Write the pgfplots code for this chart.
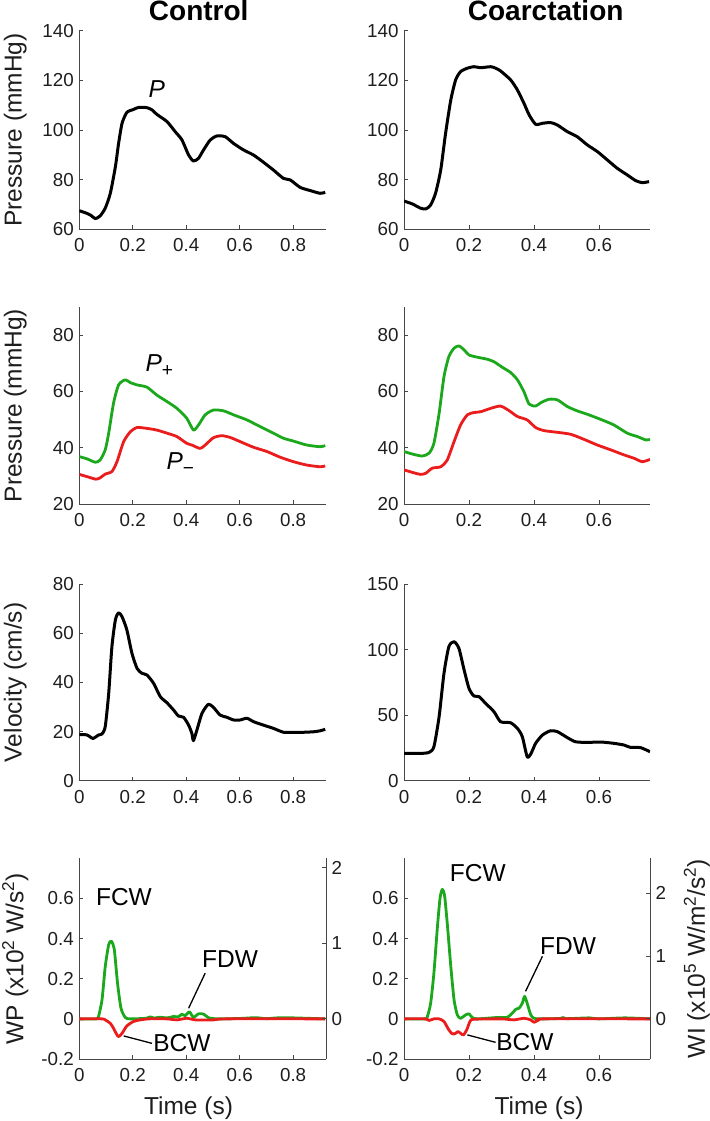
\documentclass[border=0pt]{standalone}
\usepackage{pgfplots}
\pgfplotsset{compat=1.18}
\usepackage{fontspec}
\setmainfont{Liberation Sans}
\definecolor{mgreen}{RGB}{28,168,28}
\definecolor{mred}{RGB}{234,28,28}
\definecolor{axc}{RGB}{70,70,70}
\definecolor{txc}{RGB}{30,30,30}
\newcommand{\tickfont}{\fontsize{18.8}{20}\selectfont}
\newcommand{\labfont}{\fontsize{24.5}{26}\selectfont}
\pgfplotsset{
 base/.style={scale only axis, anchor=south west, no markers,
   axis x line*=bottom, axis y line*=left,
   axis line style={-, draw=axc, line width=0.8pt},
   tick style={draw=axc, line width=0.8pt},
   tick align=inside, major tick length=4pt,
   tick label style={font=\tickfont, text=txc},
   /pgf/number format/assume math mode=true,
   xticklabel style={yshift=-6pt},
   yticklabel style={xshift=-2pt},
   ylabel style={at={([xshift=-64pt]rel axis cs:0,0.5)}, anchor=center, font=\labfont, text=txc},
   scaled ticks=false},
 L/.style={base, width=246.7pt, xmin=0, xmax=0.923, xtick={0,0.2,0.4,0.6,0.8}},
 R/.style={base, width=246pt, xmin=0, xmax=0.757, xtick={0,0.2,0.4,0.6}},
 blk/.style={black, line width=3pt, line join=round, smooth, tension=0.4},
 grn/.style={mgreen, line width=2.8pt, line join=round, smooth, tension=0.4},
 rd/.style={mred, line width=2.8pt, line join=round, smooth, tension=0.4},
 rax/.style={scale only axis, anchor=south west, axis x line=none, axis y line*=right,
   axis line style={-, draw=axc, line width=0.8pt},
   tick style={draw=axc, line width=0.8pt},
   tick align=inside, major tick length=4pt,
   tick label style={font=\tickfont, text=txc},
   /pgf/number format/assume math mode=true,
   yticklabel style={xshift=2pt}, ytick={0,1,2}, height=200.7pt},
}
\begin{document}
\begin{tikzpicture}
\useasboundingbox (0pt,0pt) rectangle (709pt,-1121pt);
\node[font=\bfseries\fontsize{28}{30}\selectfont, text=black, anchor=base] at (198.7pt,-20.7pt) {Control};
\node[font=\bfseries\fontsize{28}{30}\selectfont, text=black, anchor=base] at (545.7pt,-20.7pt) {Coarctation};

% Row 1
\begin{axis}[L, at={(79.3pt,-229.3pt)}, height=198.6pt, ymin=60, ymax=140, ytick={60,80,100,120,140}, ylabel={Pressure (mmHg)}]
\addplot[blk] coordinates {(0,67.5)(0.029,66.4)(0.045,65.5)(0.06,64.3)(0.078,65.4)(0.097,68.5)(0.116,74.5)(0.135,85.2)(0.147,94.6)(0.16,102.7)(0.178,107.1)(0.203,108.3)(0.222,109.1)(0.253,109)(0.272,108.1)(0.29,106.3)(0.328,103.4)(0.359,99.3)(0.384,96)(0.409,89.9)(0.427,87.5)(0.446,88.6)(0.465,92)(0.49,96)(0.515,97.6)(0.546,97.3)(0.577,94.6)(0.614,92)(0.652,89.9)(0.689,87)(0.726,83.9)(0.764,80.5)(0.789,79.9)(0.826,76.9)(0.864,75.6)(0.901,74.5)(0.92,74.9)};
\node[font=\itshape\labfont] at (axis cs:0.29,116.5) {P};
\end{axis}
\begin{axis}[R, at={(404pt,-229.3pt)}, height=198.6pt, ymin=60, ymax=140, ytick={60,80,100,120,140}]
\addplot[blk] coordinates {(0,71.4)(0.026,70.2)(0.051,68.5)(0.067,68.2)(0.082,69.8)(0.097,74.5)(0.113,83.9)(0.128,98.7)(0.144,112.1)(0.159,120.2)(0.174,123.5)(0.195,124.9)(0.215,125.5)(0.236,125.1)(0.267,125.5)(0.282,124.9)(0.297,123.8)(0.328,120.2)(0.349,116.1)(0.369,110.8)(0.385,106.1)(0.405,102.3)(0.426,102.7)(0.451,103)(0.472,102)(0.503,99.3)(0.533,97.3)(0.564,94)(0.595,91.3)(0.626,87.9)(0.656,84.6)(0.687,81.9)(0.713,79.6)(0.733,78.8)(0.754,79.2)};
\end{axis}

% Row 2
\begin{axis}[L, at={(79.3pt,-504.3pt)}, height=197.6pt, ymin=20, ymax=90, ytick={20,40,60,80}, ylabel={Pressure (mmHg)}]
\addplot[grn] coordinates {(0,36.9)(0.029,36.1)(0.06,34.9)(0.078,35.7)(0.097,39.3)(0.11,45.2)(0.128,55.8)(0.147,62.3)(0.172,64.1)(0.191,63.1)(0.216,62.3)(0.253,61.5)(0.29,58.7)(0.328,56.4)(0.365,54)(0.402,50.5)(0.427,46.3)(0.446,48.1)(0.471,51.7)(0.502,53.4)(0.54,53.1)(0.577,51.7)(0.627,49.9)(0.677,47.5)(0.726,45.2)(0.764,43.4)(0.801,42.4)(0.851,41)(0.901,40.4)(0.92,40.8)};
\addplot[rd] coordinates {(0,30.6)(0.029,29.8)(0.062,28.9)(0.078,29.4)(0.097,30.7)(0.122,31.6)(0.141,35.1)(0.166,42.2)(0.191,45.7)(0.216,47.2)(0.253,46.9)(0.29,46.3)(0.328,45.2)(0.365,44)(0.402,41.6)(0.421,41)(0.452,39.8)(0.471,41)(0.502,43.6)(0.533,44.3)(0.564,43.7)(0.602,42.2)(0.652,40.2)(0.702,38.7)(0.751,36.7)(0.801,35.1)(0.851,33.9)(0.901,33.3)(0.92,33.6)};
\node[font=\labfont] at (axis cs:0.299,69) {\itshape P\upshape\raisebox{-0.2em}{\fontsize{19}{19}\selectfont +}};
\node[font=\labfont] at (axis cs:0.378,34.3) {\itshape P\upshape\raisebox{-0.2em}{\fontsize{19}{19}\selectfont −}};
\end{axis}
\begin{axis}[R, at={(404pt,-504.3pt)}, height=197.6pt, ymin=20, ymax=90, ytick={20,40,60,80}]
\addplot[grn] coordinates {(0,38.7)(0.026,37.8)(0.056,37.1)(0.077,38.1)(0.092,41.6)(0.108,52.2)(0.123,65.2)(0.138,72.3)(0.154,75.3)(0.169,76.1)(0.185,74.7)(0.2,72.9)(0.226,72.1)(0.256,71.4)(0.277,70.5)(0.303,68.5)(0.328,66.7)(0.349,64.1)(0.369,59.9)(0.385,55.5)(0.405,54.8)(0.421,56)(0.446,57.2)(0.472,57)(0.503,54.6)(0.533,53.1)(0.564,51.9)(0.605,50.1)(0.646,48.1)(0.687,45.2)(0.718,44)(0.744,42.8)(0.757,43)};
\addplot[rd] coordinates {(0,32.2)(0.026,31.3)(0.051,30.6)(0.067,31)(0.087,32.8)(0.113,33.3)(0.133,35.7)(0.154,42.2)(0.174,48.1)(0.195,51.7)(0.215,52.5)(0.236,52.8)(0.267,54)(0.297,54.8)(0.323,53.2)(0.349,51.1)(0.379,49.9)(0.405,47.2)(0.431,46.1)(0.472,45.5)(0.513,44.8)(0.554,43)(0.595,41)(0.636,39.3)(0.677,37.5)(0.708,36.3)(0.733,35.1)(0.757,35.9)};
\end{axis}

% Row 3
\begin{axis}[L, at={(79.3pt,-780.7pt)}, height=196.7pt, ymin=0, ymax=80, ytick={0,20,40,60,80}, ylabel={Velocity (cm/s)}]
\addplot[blk] coordinates {(0,18.8)(0.029,18.6)(0.051,17.2)(0.072,18.6)(0.085,19)(0.097,22)(0.11,35.5)(0.122,54.5)(0.135,65.4)(0.147,68.3)(0.16,66.7)(0.178,61.3)(0.197,51.8)(0.216,45.7)(0.234,43.7)(0.253,43)(0.278,39.6)(0.303,34.2)(0.328,31.7)(0.353,28.7)(0.371,26.3)(0.39,25.8)(0.409,22.6)(0.421,19.3)(0.427,16.3)(0.44,20.6)(0.459,27.4)(0.483,31.1)(0.502,29.8)(0.527,26.7)(0.552,25.8)(0.577,24.7)(0.602,24.7)(0.627,25.4)(0.652,24)(0.689,22.6)(0.726,21.3)(0.764,19.7)(0.801,19.7)(0.839,19.7)(0.876,19.9)(0.901,20.3)(0.92,20.9)};
\end{axis}
\begin{axis}[R, at={(404pt,-780.7pt)}, height=196.7pt, ymin=0, ymax=150, ytick={0,50,100,150}]
\addplot[blk] coordinates {(0,20.8)(0.051,20.8)(0.077,21.6)(0.092,25.9)(0.108,48.8)(0.123,81.9)(0.138,102.2)(0.154,106)(0.169,100.9)(0.185,84.4)(0.2,70.4)(0.215,64.6)(0.231,64.1)(0.251,59)(0.277,52.6)(0.297,45)(0.328,44.2)(0.349,39.9)(0.364,33.6)(0.379,18.3)(0.39,20.3)(0.405,28.5)(0.426,34.8)(0.451,38.1)(0.472,37.4)(0.503,32.8)(0.528,29.7)(0.564,29.2)(0.605,29.5)(0.646,28.5)(0.677,27.2)(0.697,25.4)(0.728,25.2)(0.757,22.1)};
\end{axis}

% Row 4
\begin{axis}[L, at={(79.3pt,-1059pt)}, height=200.7pt, ymin=-0.2, ymax=0.8, ytick={-0.2,0,0.2,0.4,0.6}, ylabel={WP (x10\textsuperscript{2} W/s\textsuperscript{2})}]
\addplot[grn] coordinates {(0,0)(0.065,0)(0.072,0.012)(0.085,0.095)(0.097,0.26)(0.11,0.37)(0.12,0.387)(0.131,0.345)(0.143,0.178)(0.156,0.053)(0.172,0.007)(0.19,0)(0.25,0.003)(0.265,0.01)(0.28,0.004)(0.3,0.008)(0.33,0.005)(0.353,0.012)(0.37,0.01)(0.384,0.023)(0.396,0.016)(0.412,0.035)(0.427,0.008)(0.446,0.025)(0.465,0.024)(0.483,0.006)(0.515,0)(0.6,0.002)(0.66,0.006)(0.7,0.001)(0.74,0.005)(0.8,0.005)(0.92,0)};
\addplot[rd] coordinates {(0,0)(0.085,0)(0.097,-0.005)(0.116,-0.022)(0.128,-0.047)(0.141,-0.08)(0.148,-0.088)(0.16,-0.072)(0.178,-0.035)(0.203,-0.013)(0.228,-0.005)(0.26,0)(0.328,0)(0.365,-0.005)(0.402,0.003)(0.434,-0.005)(0.502,-0.005)(0.552,0)(0.92,0)};
\node[font=\labfont] at (axis cs:0.167,0.605) {FCW};
\node[font=\labfont] at (axis cs:0.564,0.30) {FDW};
\node[font=\labfont] at (axis cs:0.384,-0.122) {BCW};
\draw[black, line width=1.3pt] (axis cs:0.409,0.053) -- (axis cs:0.471,0.228);
\draw[black, line width=1.3pt] (axis cs:0.166,-0.085) -- (axis cs:0.272,-0.122);
\end{axis}
\begin{axis}[rax, at={(79.3pt,-1059pt)}, width=246.7pt, xmin=0, xmax=0.923, ymin=-0.531, ymax=2.125]
\addplot[draw=none] coordinates {(0,0)};
\end{axis}
\begin{axis}[R, at={(404pt,-1059pt)}, height=200.7pt, ymin=-0.2, ymax=0.8, ytick={-0.2,0,0.2,0.4,0.6}]
\addplot[grn] coordinates {(0,0)(0.065,0)(0.072,0.012)(0.082,0.078)(0.092,0.228)(0.103,0.462)(0.111,0.603)(0.118,0.645)(0.125,0.612)(0.133,0.478)(0.144,0.262)(0.154,0.095)(0.164,0.02)(0.174,0.003)(0.19,0.02)(0.2,0.025)(0.21,0.007)(0.226,0)(0.287,0.007)(0.318,0.008)(0.333,0.028)(0.344,0.048)(0.354,0.053)(0.364,0.078)(0.371,0.112)(0.379,0.078)(0.39,0.02)(0.4,0.003)(0.42,0)(0.48,0.002)(0.49,0.007)(0.5,0.001)(0.57,0.005)(0.6,0)(0.68,0.005)(0.757,0)};
\addplot[rd] coordinates {(0,0)(0.065,0)(0.077,-0.008)(0.092,0)(0.108,0)(0.123,-0.013)(0.138,-0.055)(0.149,-0.075)(0.159,-0.072)(0.166,-0.063)(0.174,-0.072)(0.183,-0.08)(0.193,-0.055)(0.203,-0.013)(0.215,-0.002)(0.3,0)(0.338,-0.005)(0.369,0.003)(0.39,-0.005)(0.4,-0.017)(0.415,-0.005)(0.431,0)(0.757,0)};
\node[font=\labfont] at (axis cs:0.227,0.728) {FCW};
\node[font=\labfont] at (axis cs:0.505,0.362) {FDW};
\node[font=\labfont] at (axis cs:0.372,-0.117) {BCW};
\draw[black, line width=1.3pt] (axis cs:0.374,0.137) -- (axis cs:0.426,0.312);
\draw[black, line width=1.3pt] (axis cs:0.195,-0.08) -- (axis cs:0.282,-0.117);
\end{axis}
\begin{axis}[rax, at={(404pt,-1059pt)}, width=246pt, xmin=0, xmax=0.757, ymin=-0.637, ymax=2.55,
  ylabel={WI (x10\textsuperscript{5} W/m\textsuperscript{2}/s\textsuperscript{2})},
  ylabel style={at={([xshift=47pt]rel axis cs:1,0.5)}, anchor=center, font=\labfont, text=txc}]
\addplot[draw=none] coordinates {(0,0)};
\end{axis}

\node[font=\labfont, text=txc] at (188.5pt,-1108pt) {Time (s)};
\node[font=\labfont, text=txc] at (539pt,-1108pt) {Time (s)};
\end{tikzpicture}
\end{document}
